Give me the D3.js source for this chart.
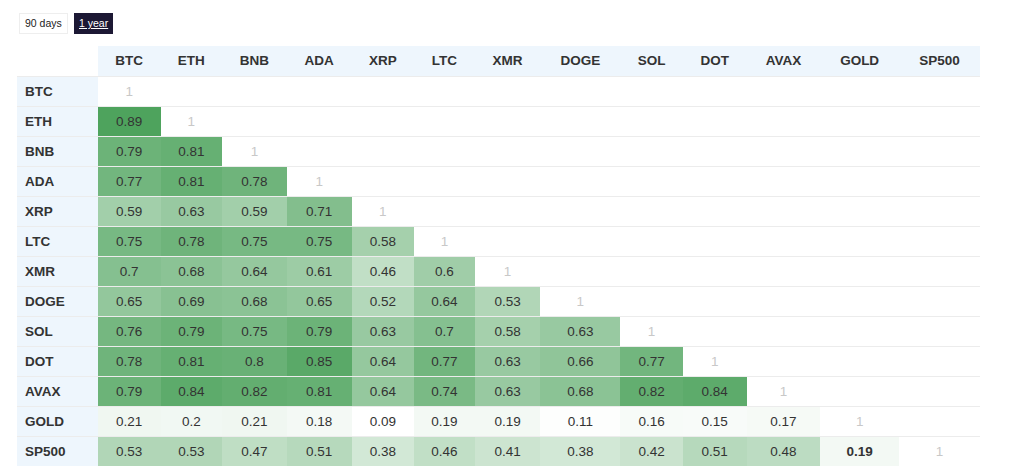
<!DOCTYPE html>
<html>
<head>
<meta charset="utf-8">
<script src="https://cdn.jsdelivr.net/npm/d3@7"></script>
<style>
  html, body { margin: 0; padding: 0; background: #fff; }
  body { font-family: "Liberation Sans", Arial, Helvetica, sans-serif; color: #333; }
  #buttons { position: absolute; left: 19px; top: 13px; height: 21px; width: 200px; }
  .btn { position: absolute; top: 0; height: 21px; line-height: 21px; font-size: 10.5px; padding: 0 5px; box-sizing: border-box; white-space: nowrap; }
  .btn.off { left: 0; border: 1px solid #eee; background: #fff; color: #222; line-height: 19px; }
  .btn.on { left: 55px; background: #1c1834; color: #fff; text-decoration: underline; }
  table { position: absolute; left: 17px; top: 46px; width: 963px; border-collapse: collapse; font-size: 13.5px; }
  th, td { padding: 0 8px; height: 30px; box-sizing: border-box; white-space: nowrap; }
  thead th { background: #eef6fd; font-weight: bold; text-align: center; color: #333; }
  thead th.corner { background: #fff; }
  tbody tr { border-top: 1px solid #ececec; }
  tbody th { background: #eef6fd; font-weight: bold; text-align: left; color: #333; }
  tbody td { text-align: center; color: #333; }
  td.diag { color: #c8c8c8; }
  td.strong { font-weight: bold; }
</style>
</head>
<body>
<div id="buttons"></div>
<div id="chart"></div>
<script>
const assets = ["BTC","ETH","BNB","ADA","XRP","LTC","XMR","DOGE","SOL","DOT","AVAX","GOLD","SP500"];
const periods = ["90 days", "1 year"];
const activePeriod = "1 year";

const BTC   = [];
const ETH   = [0.89];
const BNB   = [0.79, 0.81];
const ADA   = [0.77, 0.81, 0.78];
const XRP   = [0.59, 0.63, 0.59, 0.71];
const LTC   = [0.75, 0.78, 0.75, 0.75, 0.58];
const XMR   = [0.7, 0.68, 0.64, 0.61, 0.46, 0.6];
const DOGE  = [0.65, 0.69, 0.68, 0.65, 0.52, 0.64, 0.53];
const SOL   = [0.76, 0.79, 0.75, 0.79, 0.63, 0.7, 0.58, 0.63];
const DOT   = [0.78, 0.81, 0.8, 0.85, 0.64, 0.77, 0.63, 0.66, 0.77];
const AVAX  = [0.79, 0.84, 0.82, 0.81, 0.64, 0.74, 0.63, 0.68, 0.82, 0.84];
const GOLD  = [0.21, 0.2, 0.21, 0.18, 0.09, 0.19, 0.19, 0.11, 0.16, 0.15, 0.17];
const SP500 = [0.53, 0.53, 0.47, 0.51, 0.38, 0.46, 0.41, 0.38, 0.42, 0.51, 0.48, 0.19];
const highlighted = [["SP500", "GOLD"]];

const rowsData = [BTC, ETH, BNB, ADA, XRP, LTC, XMR, DOGE, SOL, DOT, AVAX, GOLD, SP500];

// buttons
d3.select("#buttons").selectAll("div").data(periods).join("div")
  .attr("class", d => "btn " + (d === activePeriod ? "on" : "off"))
  .text(d => d);

const allVals = rowsData.flat();
const color = d3.scalePow().exponent(1.5)
  .domain([d3.min(allVals), d3.max(allVals)])
  .range(["#ffffff", "#4ea35d"])
  .interpolate(d3.interpolateRgb)
  .clamp(true);

const table = d3.select("#chart").append("table");
const head = table.append("thead").append("tr");
head.append("th").attr("class", "corner");
head.selectAll("th.col").data(assets).join("th").attr("class", "col").text(d => d);

const body = table.append("tbody");
const rows = body.selectAll("tr").data(assets).join("tr");
rows.append("th").text(d => d);
rows.each(function(rowName, i) {
  const vals = rowsData[i];
  const cells = assets.map((colName, j) => ({
    row: rowName, col: colName, j,
    v: j < vals.length ? vals[j] : (j === i ? 1 : null)
  }));
  d3.select(this).selectAll("td").data(cells).join("td")
    .attr("class", d => {
      let c = d.j === i ? "diag" : "";
      if (highlighted.some(h => h[0] === d.row && h[1] === d.col)) c += " strong";
      return c;
    })
    .style("background", d => (d.j < vals.length ? color(d.v) : "#fff"))
    .text(d => d.v === null ? "" : String(d.v));
});
</script>
</body>
</html>
